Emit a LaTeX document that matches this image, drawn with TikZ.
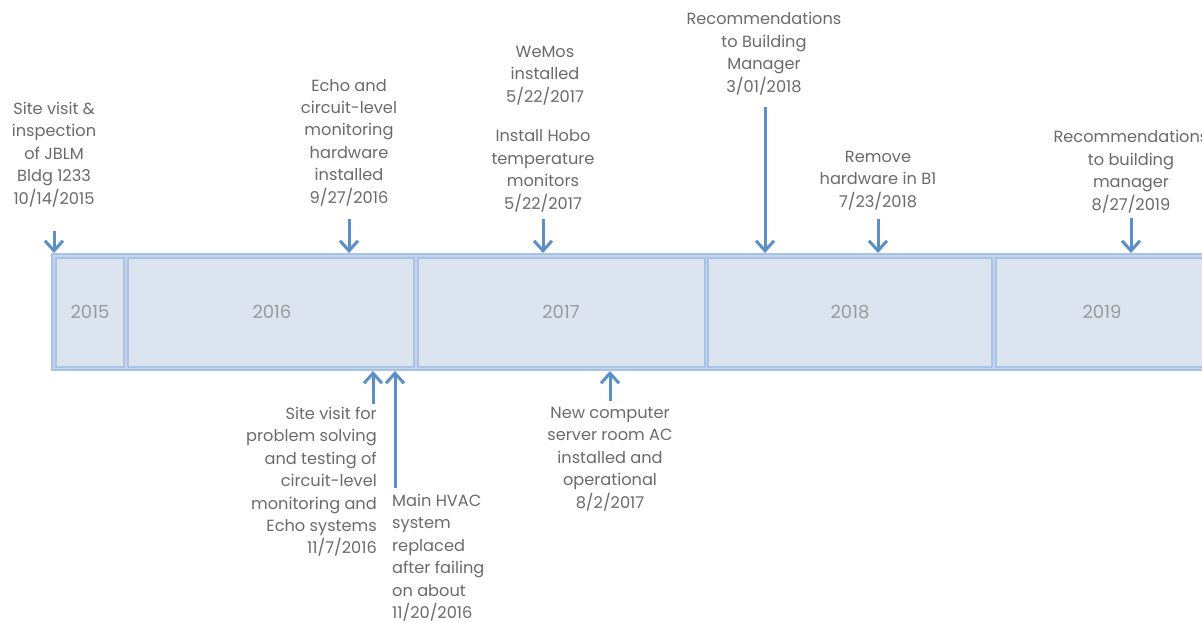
\documentclass[tikz,border=0pt]{standalone}
\usepackage{fontspec}
\setmainfont{Poppins}
\usetikzlibrary{arrows.meta}
\definecolor{cellfill}{HTML}{DCE4F0}
\definecolor{cellline}{HTML}{A9C3E5}
\definecolor{gapfill}{HTML}{C3D4EC}
\definecolor{arrowblue}{HTML}{5B8FC9}
\definecolor{labelgray}{HTML}{6A6A6A}
\definecolor{yeargray}{HTML}{9A9A9A}
\tikzset{
  event/.style={text=labelgray, font=\fontsize{16.2}{22.4}\selectfont, align=center, inner sep=0pt},
  eventr/.style={event, align=right},
  eventl/.style={event, align=left},
  yearlbl/.style={text=yeargray, font=\fontsize{18}{20}\selectfont, inner sep=0pt},
  cell/.style={draw=cellline, fill=cellfill, line width=2.2pt},
  pointer/.style={draw=arrowblue, line width=3pt, -{Straight Barb[length=10pt,width=18pt,line width=3pt]}},
}
\begin{document}
\begin{tikzpicture}[x=1pt,y=-1pt]
\useasboundingbox (0,0) rectangle (1202,622);
\clip (0,0) rectangle (1202,622);

% timeline bar
\draw[draw=cellline, fill=gapfill, line width=2pt] (52,254) rectangle (1230,370);
\draw[cell] (56,258) rectangle (124,367);
\draw[cell] (128,258) rectangle (414,367);
\draw[cell] (418,258) rectangle (705,367);
\draw[cell] (708,258) rectangle (992,367);
\draw[cell] (996,258) rectangle (1230,367);

\node[yearlbl] (y2015) at (90,312) {2015};
\node[yearlbl] (y2016) at (272,312) {2016};
\node[yearlbl] (y2017) at (561,312) {2017};
\node[yearlbl] (y2018) at (850,312) {2018};
\node[yearlbl] (y2019) at (1102,312) {2019};

% events above the bar
\node[event, anchor=south] (e1) at (54,207) {Site visit \&\\inspection\\of JBLM\\Bldg 1233\\10/14/2015};
\node[event, anchor=south] (e2) at (349,206) {Echo and\\circuit-level\\monitoring\\hardware\\installed\\9/27/2016};
\node[event, anchor=south] (e3) at (545,105) {WeMos\\installed\\5/22/2017};
\node[event, anchor=south] (e4) at (543,212) {Install Hobo\\temperature\\monitors\\5/22/2017};
\node[event, anchor=south] (e5) at (764,95) {Recommendations\\to Building\\Manager\\3/01/2018};
\node[event, anchor=south] (e6) at (878,210) {Remove\\hardware in B1\\7/23/2018};
\node[event, anchor=south] (e7) at (1131,213) {Recommendations\\to building\\manager\\8/27/2019};

% events below the bar
\node[eventr, anchor=north east] (e8) at (377,407) {Site visit for\\problem solving\\and testing of\\circuit-level\\monitoring and\\Echo systems\\11/7/2016};
\node[eventl, anchor=north west] (e9) at (392,494) {Main HVAC\\system\\replaced\\after failing\\on about\\11/20/2016};
\node[event, anchor=north] (e10) at (610,407) {New computer\\server room AC\\installed and\\operational\\8/2/2017};

% arrow ends
\coordinate (a1s) at (54,231);  \coordinate (a1e) at (54,253);
\coordinate (a2s) at (349,219); \coordinate (a2e) at (349,253);
\coordinate (a4s) at (543,219); \coordinate (a4e) at (543,253);
\coordinate (a5s) at (765,107); \coordinate (a5e) at (765,253);
\coordinate (a6s) at (878,219); \coordinate (a6e) at (878,253);
\coordinate (a7s) at (1131,218);\coordinate (a7e) at (1131,253);
\coordinate (a8s) at (373,404); \coordinate (a8e) at (373,371);
\coordinate (a9s) at (395,488); \coordinate (a9e) at (395,371);
\coordinate (a10s) at (610,401);\coordinate (a10e) at (610,371);

\foreach \a in {1,2,4,5,6,7,8,9,10} \draw[pointer] (a\a s) -- (a\a e);
\end{tikzpicture}
\end{document}
